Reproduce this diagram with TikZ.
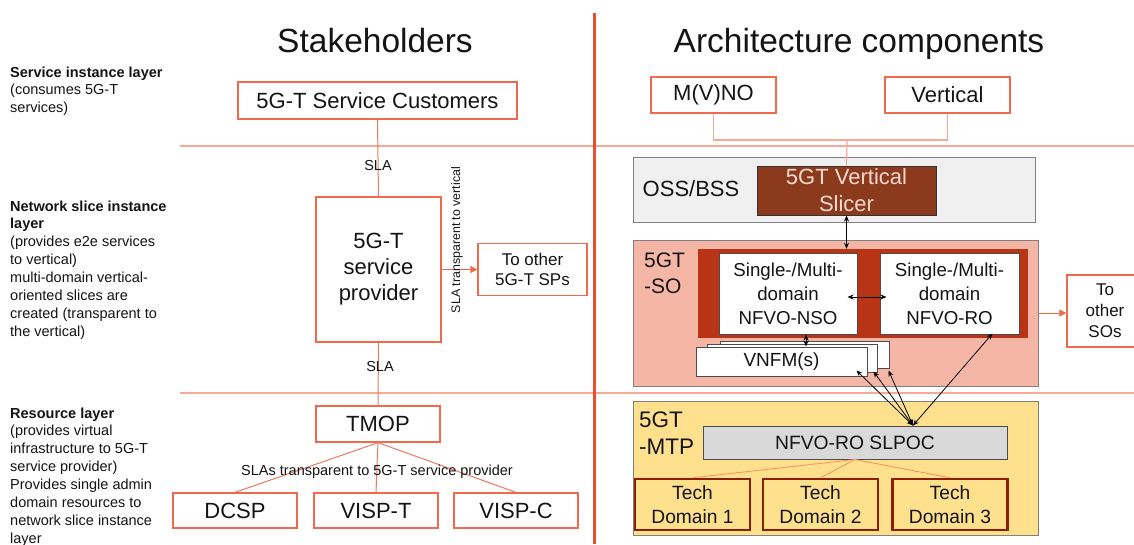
\documentclass[tikz,border=0pt]{standalone}
\usepackage{fontspec}
\setmainfont{Liberation Sans}
\usetikzlibrary{arrows.meta}
\definecolor{org}{RGB}{240,105,75}
\definecolor{connc}{RGB}{240,120,95}
\definecolor{layerline}{RGB}{246,170,150}
\definecolor{vline}{RGB}{232,80,45}
\definecolor{slicer}{RGB}{139,58,30}
\definecolor{slicertext}{RGB}{250,218,205}
\definecolor{ossfill}{RGB}{240,240,240}
\definecolor{sofill}{RGB}{245,182,166}
\definecolor{redbox}{RGB}{184,52,20}
\definecolor{mtpfill}{RGB}{255,224,140}
\definecolor{slpocfill}{RGB}{217,217,217}
\definecolor{tdborder}{RGB}{140,30,10}
\definecolor{boxgray}{RGB}{128,128,128}
\definecolor{tdline}{RGB}{245,150,100}
\definecolor{txt}{RGB}{20,20,20}
\newcommand\fsz[2]{\fontsize{#1}{#2}\selectfont}
\begin{document}
\begin{tikzpicture}[x=1pt,y=-1pt,
  every node/.style={text=txt},
  obox/.style={draw=org, line width=1.3pt, fill=white, inner sep=0pt, align=center, font=\fsz{22}{26}},
  graybox/.style={draw=boxgray, line width=1pt, inner sep=0pt},
  wbox/.style={draw=black!70, line width=1pt, fill=white, inner sep=0pt, align=center},
  tdbox/.style={draw=tdborder, line width=2.5pt, fill=mtpfill, inner sep=0pt, align=center, font=\fsz{19.2}{24}, minimum width=115, minimum height=51},
  conn/.style={draw=connc, line width=1pt},
  lconn/.style={draw=layerline, line width=1.2pt},
  biarrow/.style={draw=black, line width=0.8pt, {Stealth[length=6pt,width=5pt]}-{Stealth[length=6pt,width=5pt]}},
  oarrow/.style={draw=org, line width=1pt, -{Triangle[length=7pt,width=7pt]}},
  lbl/.style={font=\fsz{14.5}{17}, inner sep=0pt},
  layertxt/.style={font=\fsz{14.5}{17.9}, align=left, anchor=base west, inner sep=0pt}
]
\useasboundingbox (0,0) rectangle (1134,544);
\fill[white] (0,0) rectangle (1134,544);

% layer lines and divider
\draw[lconn] (180,146) -- (1134,146);
\draw[lconn] (180,393) -- (1134,393);
\draw[vline, line width=3pt] (594,13) -- (594,544);

% titles
\node[anchor=base, font=\fsz{33.5}{40}, inner sep=0pt] (t1) at (375,52) {Stakeholders};
\node[anchor=base, font=\fsz{33.5}{40}, inner sep=0pt] (t2) at (859,52) {Architecture components};

% layer descriptions (anchor = baseline of last line)
\node[layertxt] (l1) at (10,112.8) {\textbf{Service instance layer}\\(consumes 5G-T\\services)};
\node[layertxt] (l2) at (10,336.3) {\textbf{Network slice instance}\\\textbf{layer}\\(provides e2e services\\to vertical)\\multi-domain vertical-\\oriented slices are\\created (transparent to\\the vertical)};
\node[layertxt] (l3) at (10,543.3) {\textbf{Resource layer}\\(provides virtual\\infrastructure to 5G-T\\service provider)\\Provides single admin\\domain resources to\\network slice instance\\layer};

% stakeholders
\node[obox, minimum width=279, minimum height=37] (cust) at (377.5,100.5) {5G-T Service Customers};
\node[obox, minimum width=125, minimum height=145] (sp) at (378.5,269.5) {5G-T\\service\\provider};
\node[obox, minimum width=109, minimum height=52, font=\fsz{17}{20}] (tosp) at (532.5,269.5) {To other\\5G-T SPs};
\node[obox, minimum width=124, minimum height=36] (tmop) at (378,424) {TMOP};
\node[obox, minimum width=124, minimum height=35] (dcsp) at (235,510.5) {DCSP};
\node[obox, minimum width=124, minimum height=35] (vispt) at (376,510.5) {VISP-T};
\node[obox, minimum width=124, minimum height=35] (vispc) at (516,510.5) {VISP-C};

\draw[conn] (cust.south) -- (sp.north);
\draw[conn] (sp.south) -- (tmop.north);
\draw[oarrow] (sp.east) -- (tosp.west);
\draw[conn] (tmop.south) -- (dcsp.north);
\draw[conn] (tmop.south) -- (vispt.north);
\draw[conn] (tmop.south) -- (vispc.north);
\node[lbl] (sla1) at (378,166) {SLA};
\node[lbl] (sla2) at (380,367) {SLA};
\node[lbl] (slas) at (377,472) {SLAs transparent to 5G-T service provider};
\node[font=\fsz{12.4}{15}, inner sep=0pt, rotate=90] (slatv) at (457,240) {SLA transparent to vertical};

% architecture components
\node[obox, minimum width=125, minimum height=36] (mvno) at (713.5,95) {M(V)NO};
\node[obox, minimum width=125, minimum height=36] (vert) at (947.5,95) {Vertical};
\node[graybox, fill=ossfill, minimum width=402, minimum height=65] (oss) at (834,189.5) {};
\node[font=\fsz{22}{26}, inner sep=0pt] (osst) at (691,189) {OSS/BSS};
\node[draw=black!80, line width=1pt, fill=slicer, text=slicertext, align=center, inner sep=0pt, minimum width=179, minimum height=49, font=\fsz{22}{27}] (slicer) at (846.5,190.5) {5GT Vertical\\Slicer};
\coordinate (j) at (847,140);
\draw[lconn] (mvno.south) |- (j) -| (vert.south);
\draw[lconn] (j) -- (slicer.north);

\node[graybox, fill=sofill, minimum width=405, minimum height=146] (so) at (835.5,313) {};
\node[font=\fsz{21}{26}, align=left, anchor=base west, inner sep=0pt] (sot) at (644,293) {5GT\\-SO};
\node[draw=none, fill=redbox, minimum width=330, minimum height=89, inner sep=0pt] (red) at (863,293.5) {};
\node[wbox, minimum width=138, minimum height=81, font=\fsz{18.7}{24}] (nso) at (788,293.5) {Single-/Multi-\\domain\\NFVO-NSO};
\node[wbox, minimum width=139, minimum height=81, font=\fsz{18.7}{24}] (ro) at (949.5,293.5) {Single-/Multi-\\domain\\NFVO-RO};
\node[wbox, minimum width=169, minimum height=27] (vnfmb) at (804.5,354.5) {};
\node[wbox, minimum width=170, minimum height=28] (vnfmm) at (792,358) {};
\node[wbox, minimum width=171, minimum height=29, font=\fsz{19}{23}] (vnfmf) at (781.5,361.5) {VNFM(s)};
\node[obox, minimum width=76, minimum height=72, font=\fsz{17}{21}] (toso) at (1105,311) {To\\other\\SOs};

\draw[biarrow] (slicer.south) -- (slicer.south |- red.north);
\draw[biarrow] ([shift={(-10,3.5)}]nso.east) -- ([shift={(7,3.5)}]ro.west);
\draw[biarrow] ([xshift=18pt]nso.south) -- ([xshift=24.5pt]vnfmf.north);
\draw[oarrow] (so.east) -- (so.east -| toso.west);

\node[graybox, fill=mtpfill, minimum width=405, minimum height=134] (mtp) at (835.5,468) {};
\node[font=\fsz{22.5}{27}, align=left, anchor=base west, inner sep=0pt] (mtpt) at (639,454) {5GT\\-MTP};
\node[draw=black!70, line width=1pt, fill=slpocfill, inner sep=0pt, minimum width=304, minimum height=33, font=\fsz{19.3}{23}] (slpoc) at (855,442.5) {NFVO-RO SLPOC};
\node[tdbox] (td1) at (692.5,504.5) {Tech\\Domain 1};
\node[tdbox] (td2) at (820.5,504.5) {Tech\\Domain 2};
\node[tdbox] (td3) at (950,504.5) {Tech\\Domain 3};
\draw[draw=tdline, line width=0.9pt] (slpoc.south) -- (td1.north);
\draw[draw=tdline, line width=0.9pt] (slpoc.south) -- (td2.north);
\draw[draw=tdline, line width=0.9pt] (slpoc.south) -- (td3.north);

\coordinate (c) at ([xshift=58pt]slpoc.north);
\draw[biarrow] (c) -- ([shift={(-11,-6)}]vnfmf.south east);
\draw[biarrow] (c) -- ([shift={(-4,-1)}]vnfmm.south east);
\draw[biarrow] (c) -- ([shift={(-1,2)}]vnfmb.south east);
\draw[biarrow] (c) -- ([shift={(43,-1)}]ro.south);
\end{tikzpicture}
\end{document}
